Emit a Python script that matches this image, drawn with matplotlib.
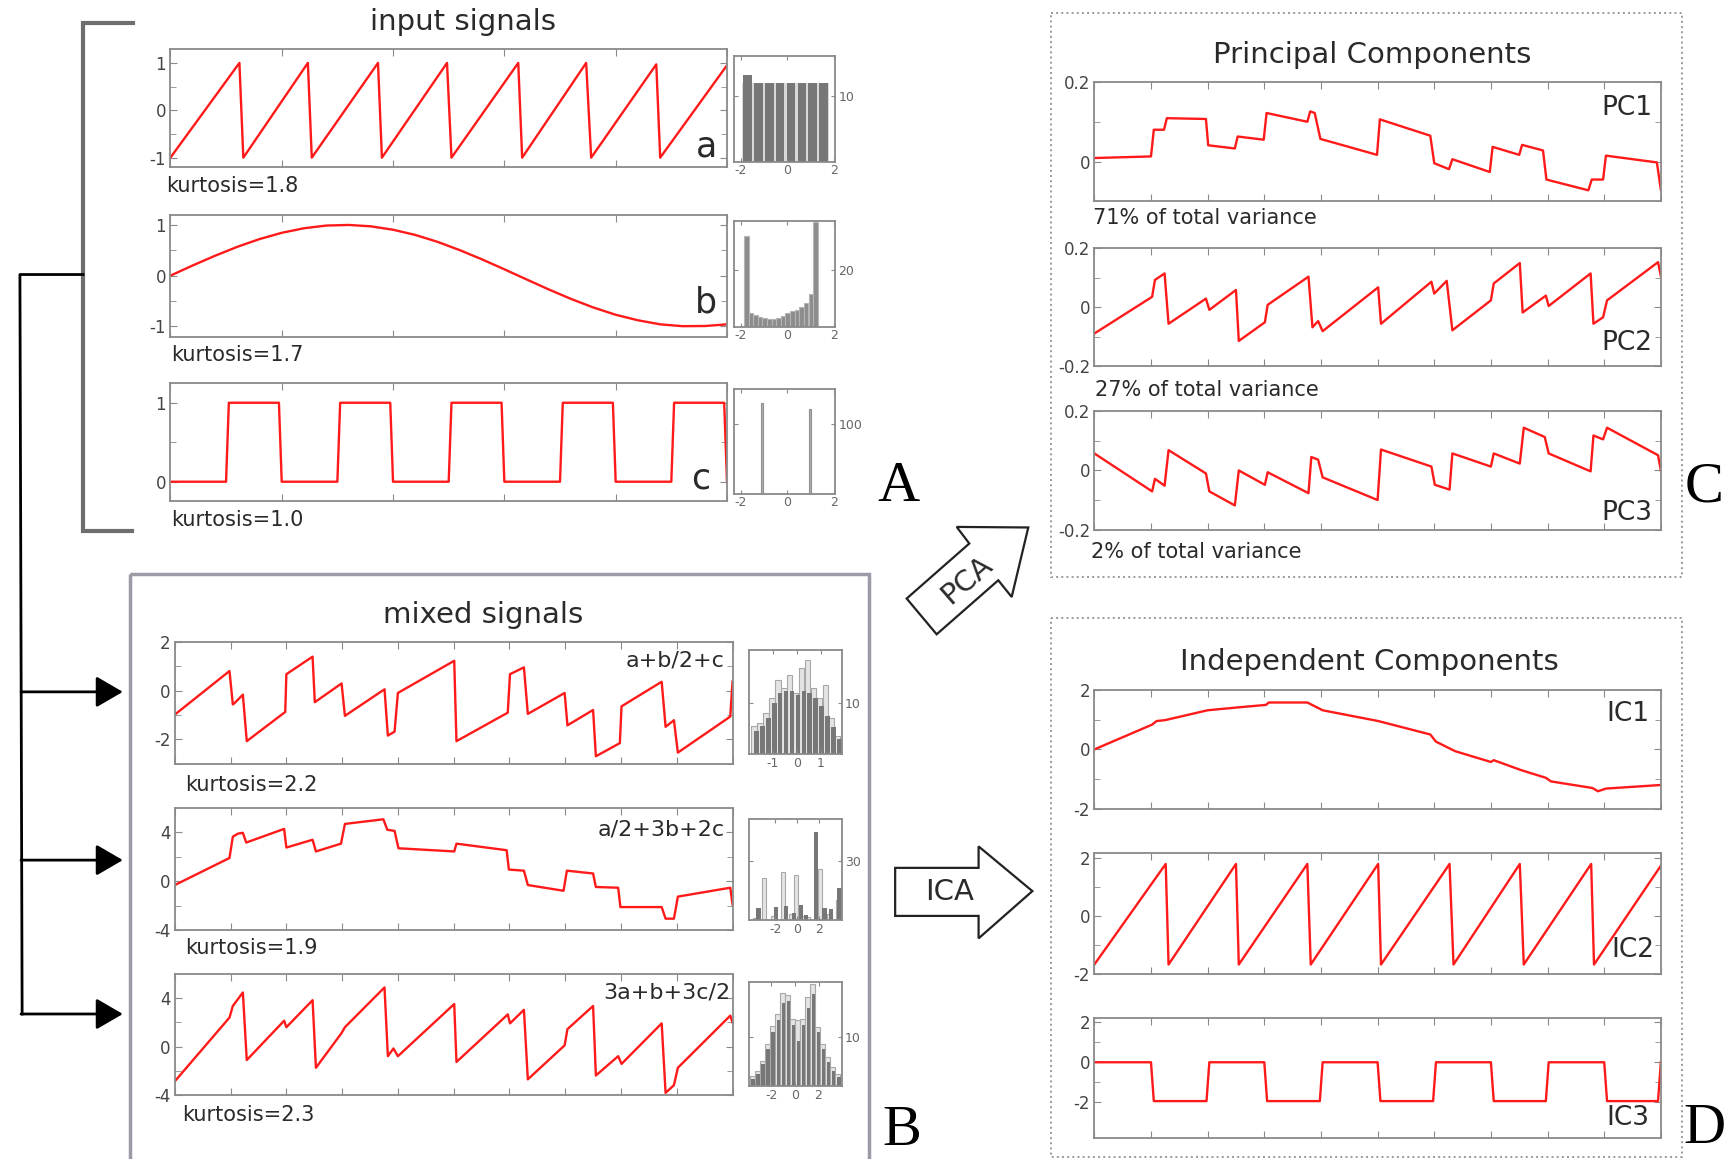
import matplotlib.pyplot as plt
from matplotlib.patches import Polygon, Rectangle

plt.rcParams['axes.unicode_minus'] = False
plt.rcParams['font.family'] = ['DejaVu Sans']

# positions are given on a 1568 x 1047 grid, y pointing down
GW, GH = 1568, 1047

RED = '#ff1a1a'
SPINE = '#8a8a8a'
TXT = '#2a2a2a'

# ---------------- input signals ----------------
t_a = [0, .124, .131, .247, .254, .373, .380, .497, .505, .625, .632, .747, .756, .873, .880, 1.0]
y_a = [-1, 1, -1, 1, -1, 1, -1, 1, -1, 1, -1, 1, -1, 0.97, -1, 0.95]

t_b = [0, .04, .08, .12, .16, .20, .24, .28, .32, .36, .40, .44, .48, .52,
       .56, .60, .64, .68, .72, .76, .80, .84, .88, .92, .96, 1.0]
y_b = [0, .200, .391, .567, .720, .844, .934, .987, .999, .972, .905, .802, .666, .502,
       .320, .125, -.075, -.273, -.460, -.628, -.771, -.880, -.960, -.996, -.993, -.96]

t_c = [0, .100, .105, .195, .200, .300, .305, .395, .400, .500, .505,
       .595, .600, .700, .705, .795, .800, .900, .905, .995, 1.0]
y_c = [0, 0, 1, 1, 0, 0, 1, 1, 0, 0, 1, 1, 0, 0, 1, 1, 0, 0, 1, 1, 0]

# ---------------- mixed signals ----------------
t_m1 = [0, .098, .104, .107, .122, .129, .198, .200, .247, .251, .299, .305, .376, .382,
        .394, .400, .501, .505, .597, .601, .626, .633, .699, .704, .750, .755, .798,
        .801, .873, .880, .895, .902, .996, 1.0]
y_m1 = [-0.98, 0.81, -0.56, -0.51, -0.16, -2.07, -0.87, 0.68, 1.40, -0.47, 0.30, -1.03, 0.06,
        -1.84, -1.68, -0.09, 1.23, -2.07, -0.90, 0.68, 0.96, -0.95, -0.09, -1.42, -0.79,
        -2.69, -2.15, -0.64, 0.37, -1.48, -1.21, -2.54, -1.06, 0.37]

t_m2 = [0, .098, .104, .113, .122, .128, .196, .200, .247, .253, .298, .305, .374, .381,
        .394, .401, .501, .505, .595, .599, .626, .633, .697, .703, .750, .755, .795,
        .799, .873, .880, .895, .902, .996, 1.0]
y_m2 = [-0.32, 1.90, 3.65, 3.90, 3.97, 3.17, 4.29, 2.76, 3.40, 2.44, 3.08, 4.70, 5.08, 4.22,
        4.13, 2.70, 2.44, 3.08, 2.54, 0.95, 0.86, -0.32, -0.79, 0.86, 0.63, -0.48, -0.54,
        -2.13, -2.13, -3.08, -3.08, -1.27, -0.54, -1.90]

t_m3 = [0, .098, .104, .122, .129, .196, .200, .247, .253, .299, .305, .376, .382, .392,
        .400, .501, .505, .597, .601, .626, .633, .699, .704, .750, .755, .795, .801,
        .873, .880, .895, .902, .996, 1.0]
y_m3 = [-2.88, 2.40, 3.36, 4.48, -1.12, 2.14, 1.60, 3.84, -1.76, 1.12, 1.60, 4.90, -0.80,
        -0.16, -0.80, 3.52, -1.28, 2.66, 1.92, 3.04, -2.72, 0.10, 1.44, 3.36, -2.40, -0.80,
        -1.44, 1.92, -3.84, -3.20, -1.76, 2.56, 2.00]

# ---------------- principal components ----------------
t_pc1 = [0, .100, .105, .123, .128, .197, .201, .248, .253, .299, .304, .376, .381, .389,
         .399, .499, .504, .593, .600, .626, .632, .698, .703, .750, .755, .792, .798,
         .872, .878, .898, .903, .993, 1.0]
y_pc1 = [.009, .013, .080, .080, .109, .107, .041, .033, .063, .055, .122, .100, .126, .122,
         .057, .017, .106, .065, -.004, -.019, .006, -.026, .037, .017, .042, .028, -.045,
         -.072, -.045, -.045, .015, -.002, -.071]

t_pc2 = [0, .102, .107, .124, .131, .197, .203, .250, .255, .301, .306, .378, .385, .395,
         .403, .501, .506, .595, .600, .622, .632, .700, .705, .751, .756, .797, .802,
         .876, .881, .898, .905, .995, 1.0]
y_pc2 = [-.089, .035, .092, .114, -.056, .029, -.009, .058, -.114, -.051, .008, .103, -.068,
         -.047, -.081, .067, -.056, .086, .046, .089, -.078, .023, .080, .149, -.018, .039,
         .004, .114, -.056, -.034, .023, .152, .105]

t_pc3 = [0, .102, .107, .124, .131, .197, .203, .248, .255, .301, .306, .378, .383, .395,
         .403, .500, .506, .595, .601, .627, .632, .700, .705, .751, .758, .795, .802,
         .876, .881, .898, .905, .995, 1.0]
y_pc3 = [.057, -.070, -.028, -.051, .068, -.010, -.070, -.117, 0, -.048, -.006, -.076, .045,
         .036, -.023, -.099, .070, .013, -.048, -.064, .057, .013, .057, .023, .143, .112,
         .057, -.003, .117, .104, .143, .051, 0]

# ---------------- independent components ----------------
t_ic1 = [0, .102, .110, .125, .200, .250, .303, .308, .376, .403, .501, .593, .603, .637,
         .700, .705, .753, .797, .806, .879, .889, .903, 1.0]
y_ic1 = [0, .83, .95, .98, 1.31, 1.40, 1.49, 1.57, 1.57, 1.31, .95, .50, .26, -.06,
         -.42, -.36, -.69, -.95, -1.07, -1.29, -1.40, -1.31, -1.19]

t_ic2 = [0, .126, .131, .250, .255, .376, .382, .501, .506, .627, .634, .751, .758, .877, .882, 1.0]
y_ic2 = [-1.67, 1.79, -1.67, 1.79, -1.67, 1.79, -1.67, 1.79, -1.67, 1.79, -1.67, 1.79, -1.67, 1.79, -1.67, 1.73]

t_ic3 = [0, .100, .105, .198, .203, .300, .305, .398, .403, .500, .505,
         .598, .603, .700, .705, .797, .802, .900, .905, .995, 1.0]
y_ic3 = [0, 0, -1.95, -1.95, 0, 0, -1.95, -1.95, 0, 0, -1.95,
         -1.95, 0, 0, -1.95, -1.95, 0, 0, -1.95, -1.95, 0]

# ---------------- histograms ----------------
ha_x = [-1.70, -1.23, -0.77, -0.31, 0.16, 0.62, 1.08, 1.55]
ha_dark = [13.2, 12, 12, 12, 12, 12, 12, 12]
ha_light = [12, 12, 12, 12, 12, 12, 12, 12]

hb_x = [-1.76, -1.56, -1.36, -1.17, -0.97, -0.77, -0.58, -0.38,
        -0.18, 0.01, 0.21, 0.41, 0.60, 0.80, 1.00, 1.19]
hb_h = [31.8, 4.8, 4.0, 3.5, 3.0, 2.7, 2.6, 3.0, 3.8, 4.8, 5.4, 6.0, 7.0, 8.2, 11.5, 36.7]

hc_x = [-1.08, 0.97]
hc_h = [130, 121]

hm1_x = [-1.8, -1.55, -1.3, -1.05, -0.8, -0.55, -0.3, -0.05, 0.2, 0.45, 0.7, 0.95, 1.2, 1.45, 1.7]
hm1_light = [5.5, 6, 8, 11, 14.5, 13, 15.5, 12, 17, 18.5, 13, 11, 13.5, 7, 3.5]
hm1_dark = [4.5, 5.5, 7, 10, 12, 12.3, 12.3, 11.5, 12.3, 12, 11, 9.5, 7.5, 5.3, 3]

hm2_lx = [-3.8, -3.0, -2.2, -1.3, -0.5, -0.1, 0.7, 1.0, 2.1, 3.0, 3.8]
hm2_light = [1, 21, 2, 24, 3, 22.5, 2, 1.7, 26, 3, 10]
hm2_dx = [-3.55, -1.95, -1.0, -0.25, 0.37, 0.83, 1.75, 2.52, 3.13, 3.9]
hm2_dark = [5.9, 6.7, 7, 3.3, 7.5, 2.5, 44.3, 5.9, 5.4, 15.9]

hm3_x = [-3.64, -3.21, -2.78, -2.36, -1.93, -1.50, -1.07, -0.64, -0.21,
         0.21, 0.64, 1.07, 1.50, 1.93, 2.36, 2.78, 3.21, 3.64]
hm3_light = [2.1, 3.1, 5.2, 8.6, 12.4, 14.8, 19.1, 18.6, 13.8, 13.5, 13.8, 18.3, 20.9, 12.1, 8.6, 6.0, 3.8, 2.4]
hm3_dark = [1.5, 2.5, 4.5, 7.5, 11, 13.5, 17, 17.5, 12.5, 9.3, 12.5, 16, 19, 11, 7.5, 5, 3, 1.8]


fig = plt.figure(figsize=(17.35, 11.59), dpi=100)

# overlay for brackets, arrows, boxes and free text (kept on top of the plots)
ov = fig.add_axes([0, 0, 1, 1])
ov.set_xlim(0, GW)
ov.set_ylim(GH, 0)
ov.axis('off')
ov.set_zorder(10)


def add_ax(l, t, r, b):
    return fig.add_axes([l / GW, 1 - b / GH, (r - l) / GW, (b - t) / GH])


def style(ax):
    for s in ax.spines.values():
        s.set_color(SPINE)
        s.set_linewidth(1.3)
    ax.tick_params(which='both', direction='in', top=True, right=True,
                   color=SPINE, labelcolor='#444444')
    ax.tick_params(which='major', length=5, labelsize=12)
    ax.tick_params(which='minor', length=4)


def signal_ax(rect, t, y, ylim, yt, ylabels, ymin=(), xstep=0.1):
    ax = add_ax(*rect)
    style(ax)
    ax.plot(t, y, color=RED, lw=1.7)
    ax.set_xlim(0, 1)
    ax.set_ylim(*ylim)
    n = int(round(1 / xstep))
    ax.set_xticks([i * xstep for i in range(n + 1)])
    ax.set_xticklabels([])
    ax.set_yticks(yt)
    ax.set_yticklabels(ylabels)
    ax.set_yticks(list(ymin), minor=True)
    ax.tick_params(axis='y', pad=3)
    return ax


def hist_ax(rect, xlim, ylim, xt, ytl, bars):
    ax = add_ax(*rect)
    style(ax)
    for x, h, w, fc, ec in bars:
        ax.bar(x, h, width=w, color=fc, edgecolor=ec, linewidth=0.8)
    ax.set_xlim(*xlim)
    ax.set_ylim(*ylim)
    ax.set_xticks(xt)
    ax.set_xticklabels([str(v) for v in xt])
    ax.set_yticks([ytl])
    ax.set_yticklabels([str(ytl)])
    ax.tick_params(which='both', labelleft=False, labelright=True,
                   labelsize=9, labelcolor='#666666', length=3, pad=2)
    return ax


# ---- A: input signals ----
signal_ax((154, 44, 657, 151), t_a, y_a, (-1.2, 1.3), [-1, 0, 1], ['-1', '0', '1'],
          [-0.5, 0.5], 0.2)
signal_ax((154, 194, 657, 304), t_b, y_b, (-1.2, 1.2), [-1, 0, 1], ['-1', '0', '1'],
          [-0.5, 0.5], 0.2)
signal_ax((154, 346, 657, 453), t_c, y_c, (-0.25, 1.25), [0, 1], ['0', '1'], [0.5], 0.2)

DARK, LIGHT, EDGE = '#777777', '#d9d9d9', '#a8a8a8'
hist_ax((663, 51, 755, 146), (-2.3, 2.05), (0, 16), [-2, 0, 2], 10,
        [(ha_x, ha_light, 0.464, LIGHT, 'none'), (ha_x, ha_dark, 0.36, DARK, 'none')])
hist_ax((663, 200, 755, 295), (-2.3, 2.05), (0, 37), [-2, 0, 2], 20,
        [(hb_x, hb_h, 0.197, '#8c8c8c', '#b5b5b5')])
hist_ax((663, 351, 755, 446), (-2.3, 2.05), (0, 150), [-2, 0, 2], 100,
        [(hc_x, hc_h, 0.09, '#b0b0b0', '#909090')])

# ---- B: mixed signals ----
signal_ax((158, 580, 662, 690), t_m1, y_m1, (-3, 2), [-2, 0, 2], ['-2', '0', '2'], [-3, -1, 1])
signal_ax((158, 730, 662, 840), t_m2, y_m2, (-4, 6), [-4, 0, 4], ['-4', '0', '4'], [-2, 2])
signal_ax((158, 880, 662, 989), t_m3, y_m3, (-4, 6), [-4, 0, 4], ['-4', '0', '4'], [-2, 2])

hist_ax((677, 587, 761, 681), (-2.0, 1.9), (0, 20.5), [-1, 0, 1], 10,
        [(hm1_x, hm1_light, 0.24, '#e4e4e4', EDGE),
         ([v + 0.1 for v in hm1_x], hm1_dark, 0.2, DARK, 'none')])
hist_ax((677, 740, 761, 831), (-4.4, 4.15), (0, 51), [-2, 0, 2], 30,
        [(hm2_lx, hm2_light, 0.4, '#e4e4e4', EDGE),
         (hm2_dx, hm2_dark, 0.4, DARK, 'none')])
hist_ax((677, 887, 761, 981), (-3.9, 4.0), (0, 21.4), [-2, 0, 2], 10,
        [(hm3_x, hm3_light, 0.43, '#e4e4e4', EDGE),
         ([v + 0.08 for v in hm3_x], hm3_dark, 0.3, DARK, 'none')])

# ---- C: principal components ----
signal_ax((989, 74, 1501, 182), t_pc1, y_pc1, (-0.1, 0.2), [0, 0.2], ['0', '0.2'], [-0.1, 0.1])
signal_ax((989, 224, 1501, 331), t_pc2, y_pc2, (-0.2, 0.2), [-0.2, 0, 0.2],
          ['-0.2', '0', '0.2'], [-0.1, 0.1])
signal_ax((989, 371, 1501, 479), t_pc3, y_pc3, (-0.2, 0.2), [-0.2, 0, 0.2],
          ['-0.2', '0', '0.2'], [-0.1, 0.1])

# ---- D: independent components ----
signal_ax((989, 623, 1501, 731), t_ic1, y_ic1, (-2, 2), [-2, 0, 2], ['-2', '0', '2'], [-1, 1])
signal_ax((989, 771, 1501, 880), t_ic2, y_ic2, (-2, 2.15), [-2, 0, 2], ['-2', '0', '2'], [-1, 1])
signal_ax((989, 920, 1501, 1028), t_ic3, y_ic3, (-3.8, 2.2), [-2, 0, 2], ['-2', '0', '2'], [-1, 1])

# ---- titles and annotations ----
for x, y, s in [(418, 20, 'input signals'), (437, 556, 'mixed signals'),
                (1240, 50, 'Principal Components'), (1238, 598, 'Independent Components')]:
    ov.text(x, y, s, ha='center', va='center', fontsize=21, color=TXT)

for x, y, k in [(150, 168, '1.8'), (155, 321, '1.7'), (155, 470, '1.0'),
                (167, 709, '2.2'), (167, 856, '1.9'), (165, 1007, '2.3')]:
    ov.text(x, y, 'kurtosis=' + k, ha='left', va='center', fontsize=15, color=TXT)

for x, y, s in [(988, 197, '71% of total variance'), (990, 352, '27% of total variance'),
                (986, 499, '2% of total variance')]:
    ov.text(x, y, s, ha='left', va='center', fontsize=15, color=TXT)

for x, y, s in [(648, 132, 'a'), (648, 273, 'b'), (642, 432, 'c')]:
    ov.text(x, y, s, ha='right', va='center', fontsize=25, color=TXT)

for x, y, s in [(655, 597, 'a+b/2+c'), (655, 749, 'a/2+3b+2c'), (660, 897, '3a+b+3c/2')]:
    ov.text(x, y, s, ha='right', va='center', fontsize=16, color=TXT)

for x, y, s in [(1493, 98, 'PC1'), (1493, 310, 'PC2'), (1493, 463, 'PC3'),
                (1491, 645, 'IC1'), (1495, 858, 'IC2'), (1491, 1010, 'IC3')]:
    ov.text(x, y, s, ha='right', va='center', fontsize=19, color=TXT)

for x, y, s in [(812, 440, 'A'), (815, 1022, 'B'), (1540, 440, 'C'), (1540, 1020, 'D')]:
    ov.text(x, y, s, ha='center', va='center', fontsize=42, color='black',
            family=['Liberation Serif', 'DejaVu Serif'])

# ---- brackets and arrows on the left ----
ov.plot([120, 75, 75, 119], [21, 21, 480, 480], color='#6e6e6e', lw=3, solid_joinstyle='miter')
ov.plot([75, 18, 20], [248, 248, 916], color='black', lw=2)
for y in [625, 777, 916]:
    ov.annotate('', xy=(111, y), xytext=(19, y),
                arrowprops=dict(arrowstyle='-|>,head_length=0.55,head_width=0.32',
                                mutation_scale=30, lw=2, color='black',
                                shrinkA=0, shrinkB=0))

# ---- frames ----
ov.add_patch(Rectangle((117.5, 518.5), 668, 560, fill=False, ec='#9b9ba8', lw=2.5))
ov.add_patch(Rectangle((950, 12), 570, 509.5, fill=False, ec='#9a9a9a', lw=1.4, ls=':'))
ov.add_patch(Rectangle((950, 558.5), 570, 487, fill=False, ec='#9a9a9a', lw=1.4, ls=':'))

# ---- PCA / ICA block arrows ----
pca_arrow = [(819.4, 540.7), (876, 491), (864.6, 476), (929.3, 476.5),
             (914.3, 539.3), (902.2, 524.2), (846.5, 573)]
ov.add_patch(Polygon(pca_arrow, closed=True, fc='white', ec='#222222', lw=1.6))
ov.text(874, 524, 'PCA', rotation=41, ha='center', va='center', fontsize=21, color=TXT)

ica_arrow = [(809, 784), (884.4, 784), (884.4, 764.6), (933, 805),
             (884.4, 847.7), (884.4, 827.4), (809, 827.4)]
ov.add_patch(Polygon(ica_arrow, closed=True, fc='white', ec='#222222', lw=1.6))
ov.text(858, 806, 'ICA', ha='center', va='center', fontsize=21, color=TXT)

fig.savefig('out.png', dpi=100)
